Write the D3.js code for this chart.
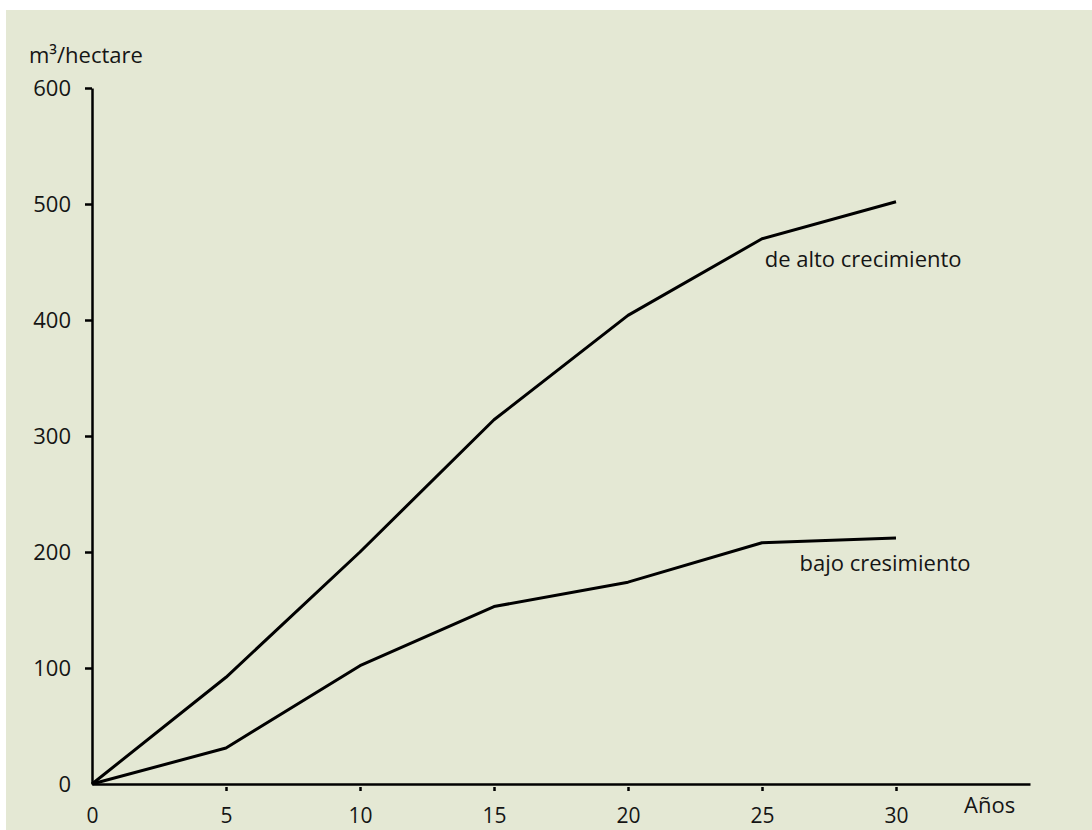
<!DOCTYPE html>
<html>
<head>
<meta charset="utf-8">
<script src="https://cdn.jsdelivr.net/npm/d3@7"></script>
<style>
  body { margin: 0; background: #fff; }
  text { font-family: "Open Sans", sans-serif; fill: #151515; }
</style>
</head>
<body>
<svg id="chart" width="1092" height="830"></svg>
<script>
// data
var years = [0, 5, 10, 15, 20, 25, 30];
var altoCrecimiento = [0, 92, 200, 314, 404, 470, 502];
var bajoCrecimiento = [0, 31, 102, 153, 174, 208, 212];
var yTicks = [0, 100, 200, 300, 400, 500, 600];
var xTicks = [0, 5, 10, 15, 20, 25, 30];

var svg = d3.select("#chart");

// background panel
svg.append("rect")
   .attr("x", 6).attr("y", 10)
   .attr("width", 1086).attr("height", 820)
   .attr("fill", "#e4e8d4");

var x = d3.scaleLinear().domain([0, 35]).range([92, 1030]),
    y = d3.scaleLinear().domain([0, 600]).range([784, 88]);

// axes
var yAxis = svg.append("g")
    .attr("transform", "translate(" + x(0) + ",0)")
    .call(d3.axisLeft(y).tickValues(yTicks).tickSize(7).tickSizeOuter(0).tickPadding(14));
yAxis.select(".domain").attr("stroke", "#000").attr("stroke-width", 2.5);
yAxis.selectAll(".tick line").attr("stroke", "#000").attr("stroke-width", 2.5);
yAxis.selectAll(".tick text").attr("font-size", 22).attr("fill", "#151515")
     .attr("font-family", "Open Sans, sans-serif");

var xAxis = svg.append("g")
    .attr("transform", "translate(0," + y(0) + ")")
    .call(d3.axisBottom(x).tickValues(xTicks).tickSize(7).tickSizeOuter(0).tickPadding(17));
xAxis.select(".domain").attr("stroke", "#000").attr("stroke-width", 2.5);
xAxis.selectAll(".tick line").attr("stroke", "#000").attr("stroke-width", 2.5)
     .attr("y1", 3);
xAxis.selectAll(".tick text").attr("font-size", 21).attr("fill", "#151515")
     .attr("font-family", "Open Sans, sans-serif");
// the 0 labels sit on the axis corner
yAxis.selectAll(".tick").filter(function(d){ return d === 0; }).select("line").remove();
xAxis.selectAll(".tick").filter(function(d){ return d === 0; }).select("line").remove();

// lines
var line = d3.line()
    .x(function(d, i){ return x(years[i]); })
    .y(function(d){ return y(d); });

[altoCrecimiento, bajoCrecimiento].forEach(function(s){
    svg.append("path")
       .datum(s)
       .attr("fill", "none")
       .attr("stroke", "#000")
       .attr("stroke-width", 3)
       .attr("stroke-linejoin", "round")
       .attr("d", line);
});

// labels
svg.append("text").attr("x", 29).attr("y", 63).attr("font-size", 22).text("m³/hectare");
svg.append("text").attr("x", 964).attr("y", 813).attr("font-size", 22).text("Años");
svg.append("text").attr("x", x(25.1)).attr("y", y(470) + 28).attr("font-size", 22)
   .text("de alto crecimiento");
svg.append("text").attr("x", x(26.4)).attr("y", y(208) + 28).attr("font-size", 22)
   .text("bajo cresimiento");
</script>
</body>
</html>
